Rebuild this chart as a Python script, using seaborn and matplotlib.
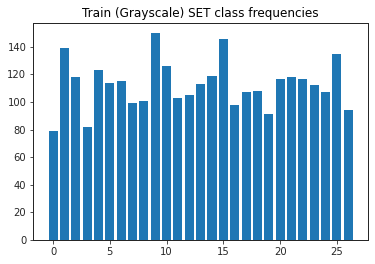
import matplotlib
matplotlib.use("Agg")
import matplotlib.pyplot as plt
import seaborn as sns
import numpy as np

classes = list(range(27))
counts = [79, 139, 118, 82, 123, 114, 115, 99, 101, 150, 126, 103, 105, 113,
          119, 146, 98, 107, 108, 91, 117, 118, 117, 112, 107, 135, 94]
title = "Train (Grayscale) SET class frequencies"

plt.rcParams['font.family'] = ['DejaVu Sans']
fig = plt.figure(figsize=(375 / 72, 264 / 72), dpi=72)
ax = fig.add_axes([33.3 / 375, 1 - 240 / 264, (368 - 33.3) / 375, (240 - 22.7) / 264])
sns.barplot(x=classes, y=counts, native_scale=True, color="#1f77b4",
            saturation=1, width=0.8, ax=ax, errorbar=None)
ax.set_xlim(-1.74, 27.74)
ax.set_ylim(0, 157.5)
ax.set_xticks([0, 5, 10, 15, 20, 25])
ax.set_xticklabels(["0", "5", "10", "15", "20", "25"])
ax.set_yticks(range(0, 141, 20))
ax.tick_params(labelsize=10, colors="#262626", length=3.5)
ax.set_title(title, fontsize=12, pad=6)
for s in ax.spines.values():
    s.set_color("#262626")
    s.set_linewidth(1.0)
fig.savefig("out.png", dpi=72)
